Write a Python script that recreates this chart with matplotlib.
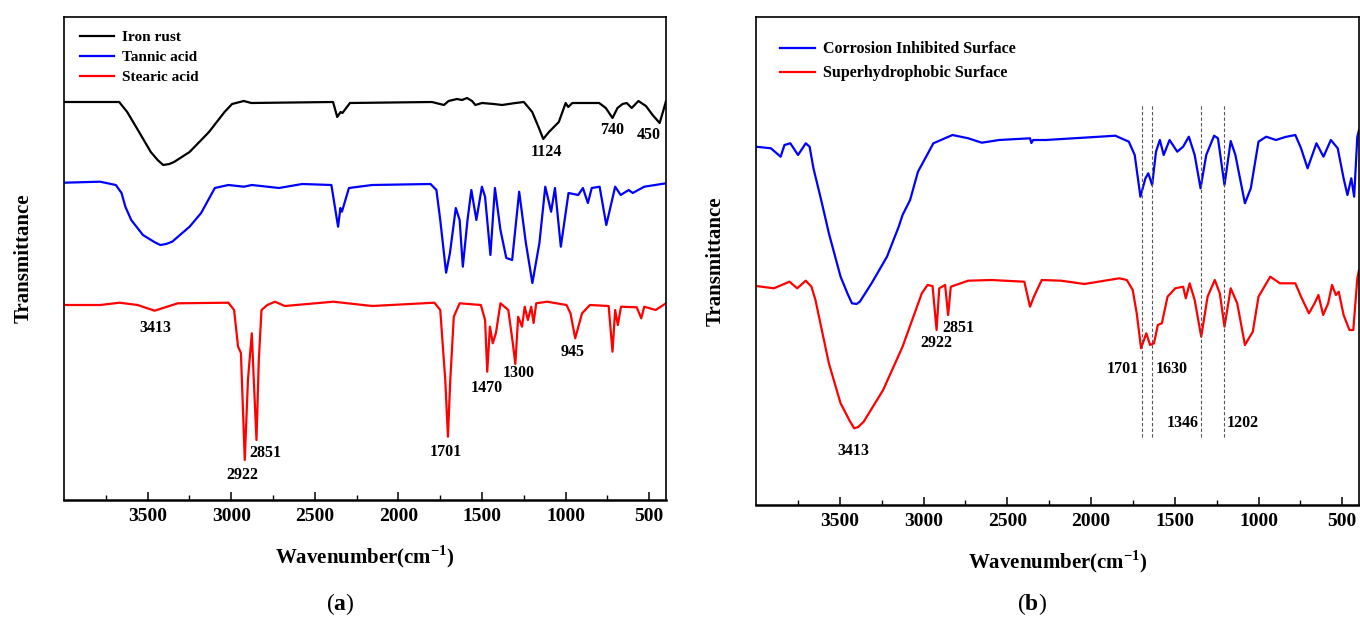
import numpy as np
import matplotlib
matplotlib.use("Agg")
import matplotlib.pyplot as plt
from matplotlib.ticker import FixedLocator

plt.rcParams['font.family'] = ['Liberation Serif', 'DejaVu Serif']
plt.rcParams['font.weight'] = 'bold'
plt.rcParams['axes.labelweight'] = 'bold'
plt.rcParams['mathtext.fontset'] = 'custom'
plt.rcParams['mathtext.rm'] = 'Liberation Serif:bold'
plt.rcParams['mathtext.bf'] = 'Liberation Serif:bold'

# --- (a) Iron rust ---
rust_wn = [4000, 3670, 3622, 3551, 3481, 3440, 3407, 3370, 3342, 3249, 3133, 3040, 2995, 2925,
           2880, 2391, 2366, 2346, 2335, 2290, 1800, 1728, 1700, 1650, 1620, 1590, 1560, 1540,
           1500, 1430, 1380, 1300, 1250, 1200, 1160, 1134, 1100, 1041, 1000, 985, 960,
           800, 760, 720, 690, 660, 635, 605, 565, 520, 480, 438, 415, 400]
rust_t = [398, 398, 388, 368, 348, 340, 335, 336, 338, 348, 368, 388, 396, 399,
          397, 398, 383, 388, 387, 397, 398, 395, 399, 401, 400, 402, 399, 395,
          397, 396, 395, 397, 398, 388, 372, 361, 368, 378, 397, 393, 397,
          397, 392, 382, 392, 396, 397, 392, 399, 394, 385, 377, 390, 399]

# --- (a) Tannic acid ---
tannic_wn = [4000, 3784, 3690, 3656, 3633, 3598, 3528, 3460, 3424, 3390, 3353, 3249, 3180, 3098,
             3017, 2924, 2877, 2714, 2576, 2401, 2361, 2347, 2338, 2296, 2157, 1808, 1773, 1750,
             1715, 1692, 1657, 1634, 1615, 1587, 1564, 1534, 1501, 1482, 1450, 1423, 1390,
             1355, 1320, 1278, 1238, 1199, 1157, 1122, 1087, 1064, 1029, 983, 925, 897,
             867, 844, 797, 757, 704, 671, 623, 599, 530, 400]
tannic_t = [317.3, 318.3, 315, 307, 293.3, 280, 265, 258, 255, 256, 258.3, 273.3, 287, 312,
            315, 313.3, 315, 312, 316, 315, 273.3, 292, 288.3, 312, 315, 316, 310, 280,
            227.3, 247, 292, 280, 233.3, 280, 310, 280, 313.3, 303.3, 245, 312, 270,
            242, 240, 308.3, 257, 217, 257, 313.3, 288.3, 312, 253.3, 307, 305, 312,
            297, 312, 313.3, 275, 313.3, 305, 310, 307, 313.3, 316.7]

# --- (a) Stearic acid ---
stearic_wn = [4000, 3784, 3667, 3560, 3458, 3319, 3017, 2983, 2959, 2950, 2942, 2919, 2900,
              2877, 2865, 2849, 2835, 2819, 2784, 2738, 2680, 2389, 2157, 1785, 1750, 1720,
              1704, 1690, 1669, 1634, 1507, 1482, 1469, 1453, 1436, 1417, 1390, 1343, 1316,
              1301, 1284, 1261, 1245, 1226, 1206, 1192, 1176, 1111, 995, 971, 943, 902,
              855, 743, 720, 704, 688, 669, 575, 548, 530, 462, 400]
stearic_t = [195, 195, 197.3, 195, 189.3, 196.7, 197.3, 190, 153.3, 150, 147, 40, 120,
             166.7, 120, 60, 140, 190, 195, 198.3, 194, 198.3, 194, 197.3, 190, 120,
             63.3, 120, 183.3, 196.7, 195, 180, 128.3, 173.3, 156.7, 167, 196.7, 190, 156.7,
             136, 183.3, 173.3, 193.3, 180, 193.3, 177, 196.7, 198.3, 195, 186.7, 161.7, 186.7,
             195, 194, 148.3, 190, 175, 193.3, 192.7, 181.7, 193.3, 190, 196.7]

# --- (b) Corrosion inhibited surface ---
inhib_wn = [4000, 3911, 3853, 3830, 3795, 3749, 3703, 3680, 3657, 3611, 3590, 3565, 3495,
            3450, 3427, 3400, 3380, 3310, 3218, 3148, 3125, 3080, 3033, 2941, 2827, 2733, 2652,
            2548, 2364, 2356, 2345, 2271, 1948, 1855, 1774, 1739, 1705, 1675, 1658, 1635, 1612,
            1589, 1566, 1531, 1485, 1450, 1416, 1381, 1346, 1312, 1265, 1242, 1203, 1166,
            1138, 1081, 1046, 1000, 954, 896, 840, 780, 746, 707, 654, 612, 568, 527,
            492, 469, 446, 429, 410, 400]
inhib_t = [358.3, 356.7, 348.3, 360, 361.7, 350, 361.7, 358.3, 336.7, 305, 290, 271.7, 228.3,
           210, 201.7, 201, 203.3, 221.7, 248.3, 278.3, 290, 305, 333.3, 361.7, 370, 366.7, 362.3,
           365, 366.7, 362, 365, 365, 368.3, 369.3, 363.3, 350, 308.3, 326.7, 331.7, 320, 353.3,
           365, 350, 365, 353.3, 358.3, 368.3, 350, 316.7, 350, 369.3, 366.7, 320, 364,
           350, 301.7, 316.7, 363.3, 368.3, 365, 368, 370, 356.7, 336.7, 361.7, 348.3, 365, 356.7,
           326.7, 310, 326.7, 308.3, 368.3, 375]

# --- (b) Superhydrophobic surface ---
shs_wn = [4000, 3893, 3800, 3754, 3703, 3669, 3645, 3565, 3495, 3440, 3414, 3390, 3357, 3241,
          3125, 3010, 2976, 2946, 2922, 2906, 2871, 2853, 2837, 2733, 2595, 2398, 2364, 2341,
          2294, 2178, 2040, 1831, 1786, 1751, 1727, 1701, 1670, 1647, 1624, 1601, 1577,
          1543, 1497, 1450, 1434, 1411, 1381, 1342, 1304, 1261, 1231, 1203, 1166, 1127,
          1081, 1034, 1000, 930, 872, 780, 746, 699, 665, 642, 614, 584, 561, 538,
          521, 492, 457, 434, 410, 400]
shs_t = [219, 216.7, 223.3, 216.7, 224.3, 218.3, 205, 141.7, 101.7, 84, 76.7, 78, 83.3, 115,
         158.3, 211.7, 220, 219, 175, 216.7, 220, 190, 218.3, 224.3, 225, 223.3, 198.3, 208.3,
         225, 224.3, 221, 226.7, 225, 215, 191.7, 156.7, 171.7, 160, 161.7, 180, 181.7,
         208.3, 216.7, 218.3, 206.7, 221.7, 205, 168.3, 208.3, 225, 211.7, 178.3, 216.7, 201.7,
         160, 173.3, 208.3, 228.3, 221.7, 221.7, 208.3, 191.7, 201.7, 210, 190, 201.7, 220, 210,
         213.3, 190, 175, 175, 226.7, 235]

# peak labels (text, wavenumber, y)
peaks_a = [("1124", 1113, 348), ("740", 725, 370), ("450", 504, 365),
           ("3413", 3452, 171.7), ("2922", 2935, 25), ("2851", 2797, 47.3),
           ("1701", 1716, 48.3), ("1470", 1471, 112.3), ("1300", 1280, 127),
           ("945", 959, 148.3)]
peaks_b = [("2922", 2925, 161.7), ("2851", 2792, 177.3), ("3413", 3421, 54.3),
           ("1701", 1813, 135.7), ("1630", 1521, 135.7), ("1346", 1450, 82.3),
           ("1202", 1093, 82.3)]
guide_wn = [1698, 1635, 1346, 1203]

fig = plt.figure(figsize=(13.6, 6.19), dpi=100)
ax1 = fig.add_axes([64 / 1360, 119 / 619, 602 / 1360, 483 / 619])
ax2 = fig.add_axes([756 / 1360, 114 / 619, 603 / 1360, 488 / 619])

ax1.plot(rust_wn, rust_t, color='black', lw=1.6, label='Iron rust')
ax1.plot(tannic_wn, tannic_t, color='#0000ff', lw=1.6, label='Tannic acid')
ax1.plot(stearic_wn, stearic_t, color='#ff0000', lw=1.6, label='Stearic acid')
ax1.set_ylim(0, 483)
for txt, x, y in peaks_a:
    ax1.text(x, y, txt, ha='center', va='center', fontsize=11.5)

ax2.plot(inhib_wn, inhib_t, color='#0000ff', lw=1.6, label='Corrosion Inhibited Surface')
ax2.plot(shs_wn, shs_t, color='#ff0000', lw=1.6, label='Superhydrophobic Surface')
ax2.set_ylim(0, 488)
for w in guide_wn:
    ax2.plot([w, w], [68, 400], color='#555555', lw=0.8, ls=(0, (3, 2)))
for txt, x, y in peaks_b:
    ax2.text(x, y, txt, ha='center', va='center', fontsize=11.5)

for ax, anchor, fs, sp in ((ax1, (0.027, 0.972), 11, 0.42), (ax2, (0.04, 0.95), 11.5, 0.5)):
    ax.set_xlim(4000, 400)
    ax.xaxis.set_major_locator(FixedLocator([3500, 3000, 2500, 2000, 1500, 1000, 500]))
    ax.xaxis.set_minor_locator(FixedLocator([3750, 3250, 2750, 2250, 1750, 1250, 750]))
    ax.tick_params(axis='x', which='major', direction='in', length=6, width=1.1,
                   labelsize=14, pad=6, top=False)
    ax.tick_params(axis='x', which='minor', direction='in', length=3.5, width=1.0, top=False)
    ax.set_yticks([])
    for s in ax.spines.values():
        s.set_linewidth(1.2)
    ax.spines['bottom'].set_linewidth(1.8)
    ax.set_xlabel(r'Wavenumber(cm$^{-1}$)', fontsize=15, labelpad=13)
    ax.set_ylabel('Transmittance', fontsize=15, labelpad=22)
    ax.legend(loc='upper left', bbox_to_anchor=anchor, frameon=False, fontsize=fs,
              handlelength=2.2, handletextpad=0.5, labelspacing=sp,
              borderpad=0, borderaxespad=0)

fig.text(340 / 1360, 1 - 604 / 619, r'($\mathbf{a}$)', ha='center', va='center',
         fontsize=17, fontweight='normal')
fig.text(1032 / 1360, 1 - 604 / 619, r'($\mathbf{b}$)', ha='center', va='center',
         fontsize=17, fontweight='normal')

fig.savefig('out.png', dpi=100)
